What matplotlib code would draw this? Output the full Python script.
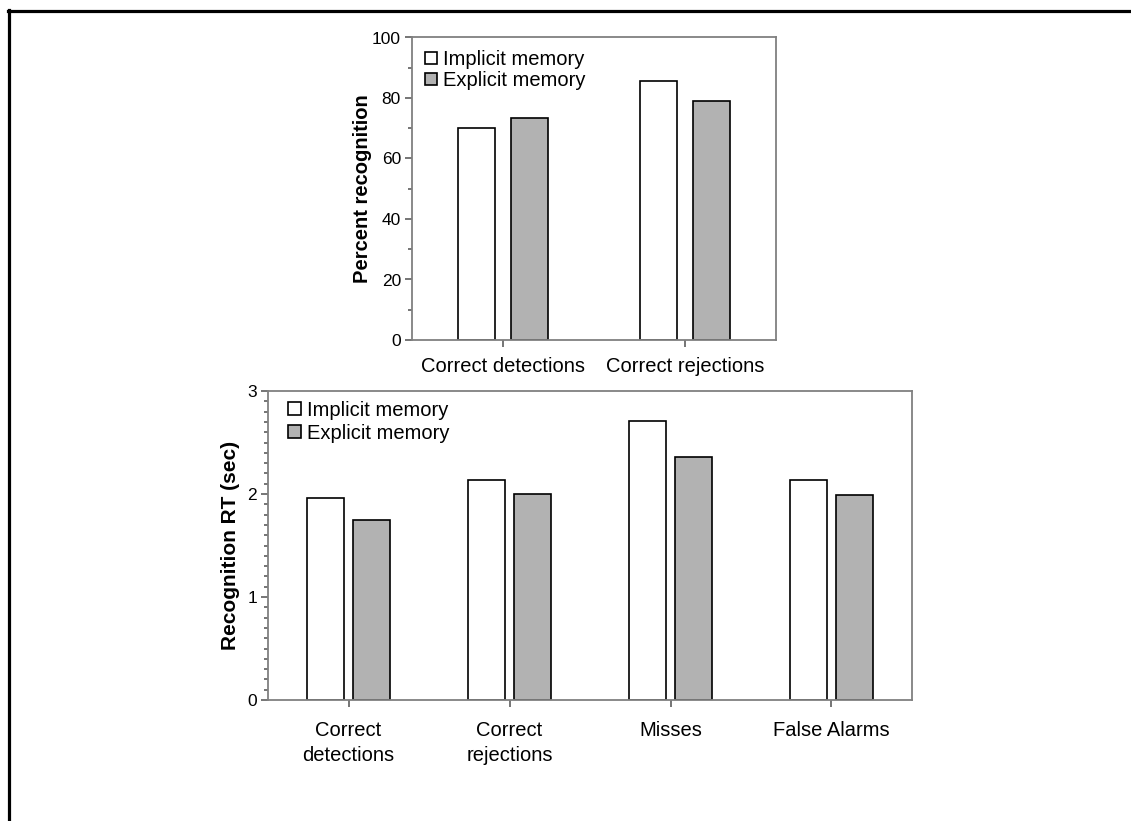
import matplotlib
matplotlib.use("Agg")
import matplotlib.pyplot as plt
from matplotlib.lines import Line2D
from matplotlib.ticker import MultipleLocator

plt.rcParams['font.family'] = ['Liberation Sans', 'DejaVu Sans']

# Recognition accuracy (percent)
acc_categories = ["Correct detections", "Correct rejections"]
acc_implicit = [70.0, 85.5]
acc_explicit = [73.5, 79.0]

# Recognition reaction time (seconds)
rt_categories = ["Correct\ndetections", "Correct\nrejections", "Misses", "False Alarms"]
rt_implicit = [1.96, 2.14, 2.71, 2.14]
rt_explicit = [1.75, 2.00, 2.36, 1.99]

series_labels = ["Implicit memory", "Explicit memory"]
series_colors = ["white", "#b2b2b2"]

fig = plt.figure(figsize=(11.31, 8.21), dpi=100)

# frame lines along the top and left of the figure
fig.add_artist(Line2D([7.5 / 1131, 1.0], [1 - 11.5 / 821, 1 - 11.5 / 821],
                      transform=fig.transFigure, color="black", lw=2.3))
fig.add_artist(Line2D([8.5 / 1131, 8.5 / 1131], [0.0, 1 - 10 / 821],
                      transform=fig.transFigure, color="black", lw=2.3))

spine_color = "#808080"
tick_color = "#505050"


def style_axes(ax):
    for s in ax.spines.values():
        s.set_color(spine_color)
        s.set_linewidth(1.3)
    ax.tick_params(axis="y", which="major", direction="out", length=5, width=1.1,
                   color=tick_color, labelsize=12.5, pad=3)
    ax.tick_params(axis="y", which="minor", direction="out", length=3, width=1.1,
                   color=tick_color)
    ax.tick_params(axis="x", which="major", direction="out", length=5, width=1.1,
                   color=tick_color, labelsize=14.5)
    ax.set_facecolor("white")


def draw_bars(ax, n, imp, exp, width, offset):
    xs = list(range(n))
    b1 = ax.bar([x - offset for x in xs], imp, width=width, color=series_colors[0],
                edgecolor="black", linewidth=1.2, label=series_labels[0])
    b2 = ax.bar([x + offset for x in xs], exp, width=width, color=series_colors[1],
                edgecolor="black", linewidth=1.2, label=series_labels[1])
    return b1, b2


# --- upper panel: percent recognition ---
ax1 = fig.add_axes([412 / 1131, 1 - 340 / 821, (776 - 412) / 1131, (340 - 37.5) / 821])
draw_bars(ax1, len(acc_categories), acc_implicit, acc_explicit, 0.203, 0.146)
ax1.set_xlim(-0.5, 1.5)
ax1.set_ylim(0, 100)
ax1.yaxis.set_major_locator(MultipleLocator(20))
ax1.yaxis.set_minor_locator(MultipleLocator(10))
ax1.set_xticks(range(len(acc_categories)))
ax1.set_xticklabels(acc_categories)
style_axes(ax1)
ax1.tick_params(axis="x", pad=7)
ax1.set_ylabel("Percent recognition", fontsize=14.5, fontweight="bold", labelpad=0)
ax1.legend(loc="upper left", bbox_to_anchor=(0.03, 0.965), frameon=False,
           fontsize=14.5, handlelength=0.6, handleheight=0.55, handletextpad=0.3,
           labelspacing=0.1, borderaxespad=0.0, borderpad=0.1)

# --- lower panel: recognition RT ---
ax2 = fig.add_axes([268 / 1131, 1 - 700 / 821, (912 - 268) / 1131, (700 - 391) / 821])
draw_bars(ax2, len(rt_categories), rt_implicit, rt_explicit, 0.224, 0.143)
ax2.set_xlim(-0.5, 3.5)
ax2.set_ylim(0, 3)
ax2.yaxis.set_major_locator(MultipleLocator(1))
ax2.yaxis.set_minor_locator(MultipleLocator(0.1))
ax2.set_xticks(range(len(rt_categories)))
ax2.set_xticklabels(rt_categories, linespacing=1.4)
style_axes(ax2)
ax2.tick_params(axis="x", pad=10)
ax2.set_ylabel("Recognition RT (sec)", fontsize=15, fontweight="bold", labelpad=5)
ax2.legend(loc="upper left", bbox_to_anchor=(0.028, 0.975), frameon=False,
           fontsize=14.5, handlelength=0.65, handleheight=0.6, handletextpad=0.3,
           labelspacing=0.2, borderaxespad=0.0, borderpad=0.1)

fig.savefig("out.png", dpi=100, facecolor="white")
